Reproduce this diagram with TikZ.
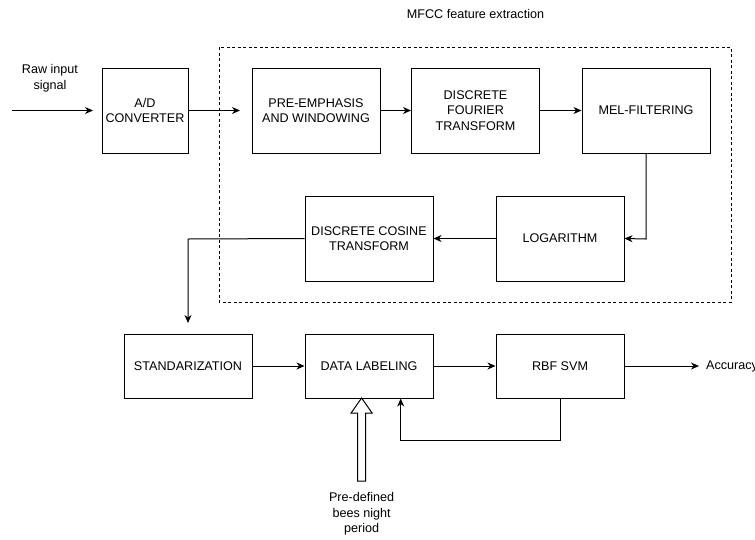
\documentclass[tikz,border=0pt]{standalone}
\usepackage{fontspec}
\setmainfont{Liberation Sans}
\usetikzlibrary{arrows.meta}
\begin{document}
\begin{tikzpicture}[x=1pt,y=-1pt,
  box/.style={draw, line width=1pt, minimum width=128pt, minimum height=85pt,
    align=center, inner sep=0pt, font=\fontsize{12.6}{15.5}\selectfont},
  lowbox/.style={box, minimum height=64pt},
  lbl/.style={align=center, inner sep=0pt, font=\fontsize{12.6}{15.5}\selectfont},
  arr/.style={-{Stealth[length=8pt,width=7pt,inset=2.5pt]}, line width=1pt},
  grp/.style={draw, line width=0.8pt, dash pattern=on 3pt off 2.5pt},
  hollow/.style={draw, line width=1pt, fill=white}
]
\useasboundingbox (0,0) rectangle (755,539);

% group frame
\draw[grp] (219,47) rectangle (731,302);
\node[lbl] (mfcc) at (475.5,14) {MFCC feature extraction};

% top row
\node[box, minimum width=86pt] (ad) at (145,110.5) {A/D\\CONVERTER};
\node[box] (pre) at (316,110.5) {PRE-EMPHASIS\\AND WINDOWING};
\node[box] (dft) at (475.5,110.5) {DISCRETE\\FOURIER\\TRANSFORM};
\node[box] (mel) at (646,110.5) {MEL-FILTERING};

% middle row
\node[box] (dct) at (369,238.5) {DISCRETE COSINE\\TRANSFORM};
\node[box] (log) at (560,238.5) {LOGARITHM};

% bottom row
\node[lowbox] (std) at (188,366) {STANDARIZATION};
\node[lowbox] (lab) at (369,366) {DATA LABELING};
\node[lowbox] (svm) at (560,366) {RBF SVM};

% labels
\node[lbl] (raw) at (50,78) {Raw input\\signal};
\node[lbl, anchor=west] (acc) at (706,366) {Accuracy};
\node[lbl] (pdn) at (361.6,514) {Pre-defined\\bees night\\period};

% coordinates
\coordinate (rawstart) at (12,110.5);
\coordinate (rawend) at (93,110.5);
\coordinate (preend) at (240,110.5);
\coordinate (accend) at (699,366);
\coordinate (melbend) at (646,239);
\coordinate (dctbend) at (188,239);
\coordinate (stdtop) at (188,323);
\coordinate (fbR) at (560.7,440.7);
\coordinate (fbL) at (400.7,440.7);

% connectors
\draw[arr] (rawstart) -- (rawend);
\draw[arr] (ad.east) -- (preend);
\draw[arr] (pre) -- (dft);
\draw[arr] (dft) -- (mel);
\draw[arr] (mel.south) -- (melbend) -- (log.east);
\draw[arr] (log) -- (dct);
\draw[arr] (dct.west) -- (dctbend) -- (stdtop);
\draw[arr] (std) -- (lab);
\draw[arr] (lab) -- (svm);
\draw[arr] (svm.east) -- (accend);
\draw[arr] (svm.south -| fbR) -- (fbR) -- (fbL) -- (fbL |- lab.south);

% hollow block arrow
\draw[hollow] (357.6,481) -- (357.6,413) -- (351.1,413) -- (361.6,398)
  -- (372.1,413) -- (365.6,413) -- (365.6,481) -- cycle;
\end{tikzpicture}
\end{document}
